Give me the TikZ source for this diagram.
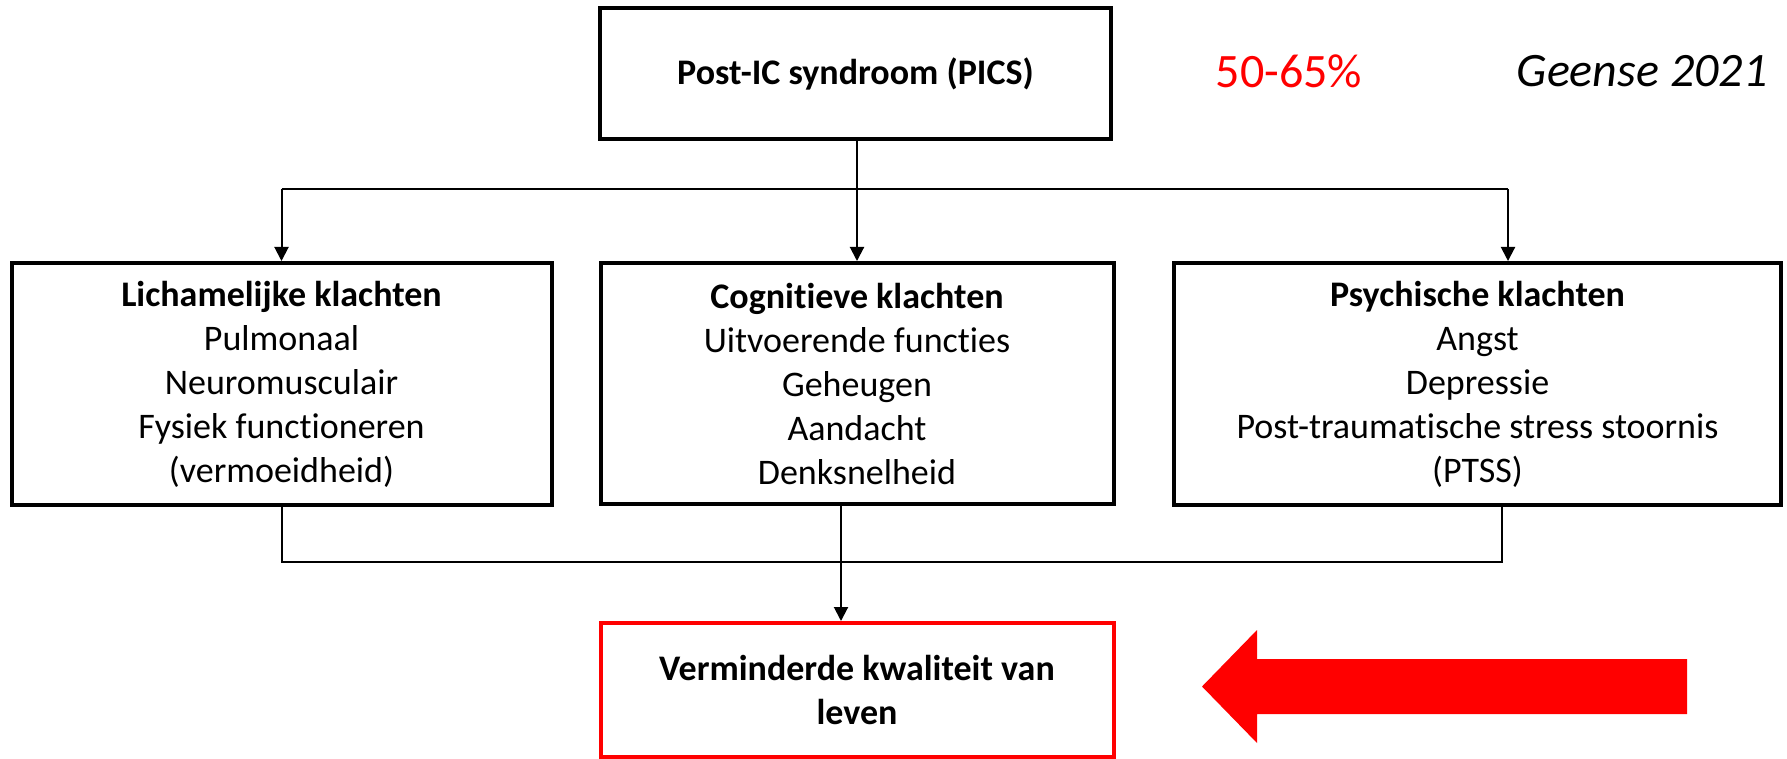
\documentclass[tikz,border=0pt]{standalone}
\usepackage{fontspec}
\setmainfont{Carlito}[Ligatures=NoCommon]
\usetikzlibrary{arrows.meta}
\begin{document}
\begin{tikzpicture}[x=0.5pt,y=-0.5pt,
  box/.style={draw=black,line width=2pt,align=center,inner sep=0pt,
    font=\fontsize{18pt}{22pt}\selectfont},
  redbox/.style={box,draw=red},
  conn/.style={line width=1pt},
  arr/.style={conn,-{Triangle[length=7pt,width=7pt]}},
  note/.style={font=\fontsize{24pt}{28pt}\selectfont,inner sep=0pt}]
\useasboundingbox (0,0) rectangle (1787,759);
\node[box,minimum width=255.5pt,minimum height=65.5pt] (top) at (855.5,73.5) {\textbf{Post-IC syndroom (PICS)}};
\node[box,minimum width=270pt,minimum height=121pt] (left) at (281.5,384)
  {\textbf{Lichamelijke klachten}\\Pulmonaal\\Neuromusculair\\Fysiek functioneren\\(vermoeidheid)};
\node[box,minimum width=256.5pt,minimum height=120.5pt] (mid) at (857,383.5)
  {\textbf{Cognitieve klachten}\\Uitvoerende functies\\Geheugen\\Aandacht\\Denksnelheid};
\node[box,minimum width=303.5pt,minimum height=121pt] (right) at (1477.5,384)
  {\textbf{Psychische klachten}\\Angst\\Depressie\\Post-traumatische stress stoornis\\(PTSS)};
\node[redbox,minimum width=256.5pt,minimum height=67pt] (red) at (857,690)
  {\textbf{Verminderde kwaliteit van}\\\textbf{leven}};
\node[note,text=red] (pct) at (1289,71) {50-65\%};
\node[note] (ref) at (1642,71) {\itshape Geense 2021};
% top connectors
\coordinate (j1) at (857,189);
\coordinate (jl) at (281.5,189);
\coordinate (jr) at (1508,189);
\draw[conn] (j1 |- top.south) -- (j1);
\draw[conn] (jl) -- (jr);
\draw[arr] (jl) -- (left.north);
\draw[arr] (j1) -- (mid.north);
\draw[arr] (jr) -- (jr |- right.north);
% bottom connectors
\coordinate (bl) at (281.5,562);
\coordinate (br) at (1502,562);
\coordinate (bm) at (841,562);
\draw[conn] (left.south) -- (bl) -- (br) -- (br |- right.south);
\draw[arr] (bm |- mid.south) -- (bm |- red.north);
% big red arrow
\fill[red] (1687,659) -- (1257,659) -- (1257,630) -- (1202,686.5) -- (1257,743) -- (1257,714) -- (1687,714) -- cycle;
\end{tikzpicture}
\end{document}
